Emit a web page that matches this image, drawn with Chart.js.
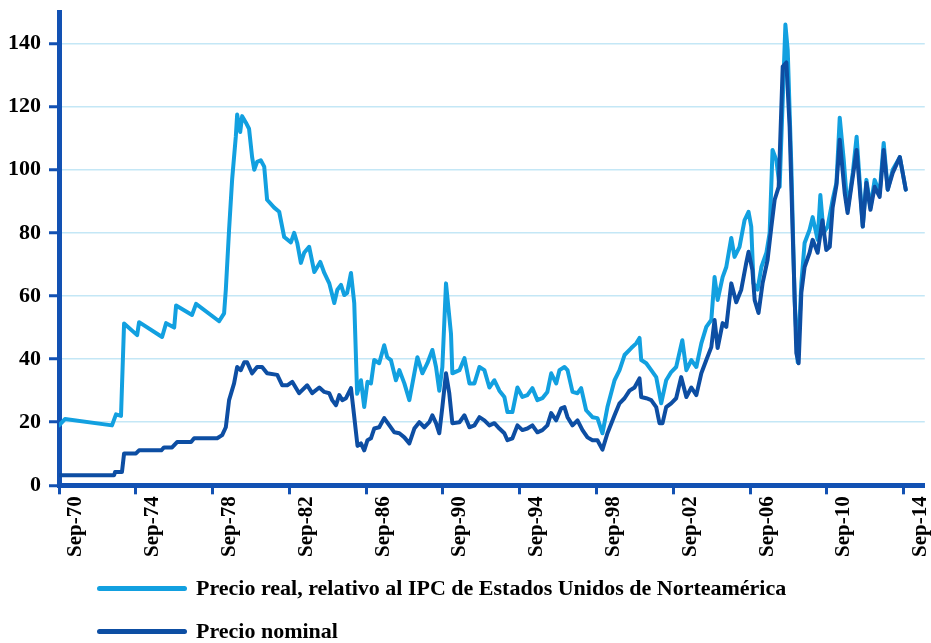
<!DOCTYPE html>
<html>
<head>
<meta charset="utf-8">
<script src="https://cdn.jsdelivr.net/npm/chart.js@4.4.1/dist/chart.umd.min.js"></script>
<style>
  html, body { margin: 0; padding: 0; background: #fff; }
  #wrap { position: relative; width: 931px; height: 643px; }
  #legend { position: absolute; left: 97px; top: 574px; font: bold 22px "Liberation Serif", serif; color: #000; }
  .item { display: flex; align-items: center; height: 28px; margin-bottom: 15px; }
  .swatch { width: 90px; height: 5px; border-radius: 3px; margin-right: 9px; }
</style>
</head>
<body>
<div id="wrap">
  <canvas id="oilChart" width="931" height="643"></canvas>
  <div id="legend"></div>
</div>
<script>
// Data
const realYears = [1970.67, 1970.98, 1973.43, 1973.64, 1973.90, 1974.06, 1974.74, 1974.84, 1976.04, 1976.25,
  1976.67, 1976.77, 1977.60, 1977.81, 1979.01, 1979.27, 1979.36, 1979.53, 1979.69, 1979.88,
  1979.95, 1980.11, 1980.21, 1980.40, 1980.57, 1980.73, 1980.84, 1980.99, 1981.18, 1981.36,
  1981.51, 1981.88, 1982.14, 1982.40, 1982.75, 1982.92, 1983.08, 1983.27, 1983.44, 1983.70,
  1983.97, 1984.28, 1984.49, 1984.75, 1985.01, 1985.17, 1985.36, 1985.53, 1985.68, 1985.88,
  1986.05, 1986.20, 1986.40, 1986.57, 1986.74, 1986.92, 1987.09, 1987.35, 1987.61, 1987.77,
  1987.96, 1988.22, 1988.40, 1988.66, 1988.92, 1989.18, 1989.34, 1989.60, 1989.86, 1990.12,
  1990.31, 1990.48, 1990.64, 1990.83, 1991.09, 1991.16, 1991.53, 1991.79, 1992.05, 1992.31,
  1992.57, 1992.83, 1993.09, 1993.35, 1993.61, 1993.87, 1994.03, 1994.29, 1994.55, 1994.81,
  1995.07, 1995.33, 1995.59, 1995.85, 1996.11, 1996.31, 1996.57, 1996.74, 1997.00, 1997.16,
  1997.42, 1997.68, 1997.87, 1998.13, 1998.46, 1998.72, 1998.98, 1999.24, 1999.61, 1999.87,
  2000.13, 2000.48, 2000.74, 2000.91, 2001.00, 2001.26, 2001.52, 2001.78, 2002.04, 2002.30,
  2002.56, 2002.82, 2003.14, 2003.35, 2003.61, 2003.87, 2004.13, 2004.39, 2004.65, 2004.82,
  2004.98, 2005.24, 2005.43, 2005.69, 2005.86, 2006.12, 2006.38, 2006.59, 2006.73, 2006.85,
  2007.06, 2007.26, 2007.52, 2007.69, 2007.84, 2008.04, 2008.21, 2008.51, 2008.63, 2008.82,
  2008.99, 2009.15, 2009.34, 2009.51, 2009.77, 2009.93, 2010.19, 2010.33, 2010.50, 2010.71,
  2010.97, 2011.17, 2011.34, 2011.55, 2011.75, 2012.02, 2012.22, 2012.54, 2012.73, 2012.94,
  2013.16, 2013.42, 2013.63, 2013.84, 2014.10, 2014.47, 2014.78];
const realValues = [19, 21, 19, 22.5, 22, 51.3, 47.6, 51.7, 47, 51.4,
  50, 57, 54, 57.5, 52, 54.5, 62, 81, 97, 110.5,
  117.5, 112, 117, 115, 113, 104, 100, 102.5, 103, 101,
  90.5, 88, 86.7, 78.7, 77, 80, 76.8, 70.5, 73.7, 75.6,
  67.6, 70.8, 67.3, 64, 57.8, 62, 63.5, 60.3, 61, 67.3,
  57.8, 29, 33.3, 24.8, 32.8, 32.3, 39.7, 38.7, 44.4, 40.6,
  39.7, 33.3, 36.5, 32.3, 27, 35.5, 40.6, 35.5, 38.7, 42.9,
  37.5, 30, 37.5, 64, 48, 35.5, 36.5, 40.3, 32.3, 32.3,
  37.5, 36.5, 31, 33.3, 30, 28, 23.2, 23.2, 31, 28,
  28.6, 30.8, 27, 27.6, 29.6, 35.5, 32.3, 36.5, 37.5, 36.5,
  29.6, 29.2, 30.8, 23.8, 21.6, 21.3, 16.5, 24.8, 33.3, 36.5,
  41.3, 43.5, 45, 46.7, 39.7, 38.7, 36.5, 34.3, 26, 33.3,
  35.9, 37.5, 46, 36.5, 39.7, 37.5, 45, 50.2, 52.4, 66,
  58.7, 66, 69.2, 78.4, 72.4, 75.6, 84, 86.7, 82, 64,
  62, 69.2, 73.7, 80, 106.3, 103, 94.6, 146, 138, 101,
  58.7, 39, 64, 76.8, 81, 85, 77.8, 92, 80, 82,
  90.5, 95.9, 116.5, 103, 87.3, 99, 110.5, 82, 96.8, 88,
  96.8, 92.6, 108.5, 93.7, 100, 104, 93.7];

const nomYears = [1970.67, 1973.54, 1973.59, 1973.95, 1974.06, 1974.68, 1974.84, 1976.00, 1976.14, 1976.56,
  1976.82, 1977.55, 1977.71, 1978.91, 1979.17, 1979.36, 1979.53, 1979.79, 1979.95, 1980.14,
  1980.32, 1980.47, 1980.73, 1980.99, 1981.25, 1981.51, 1982.04, 1982.30, 1982.56, 1982.82,
  1983.18, 1983.60, 1983.86, 1984.23, 1984.49, 1984.75, 1984.90, 1985.10, 1985.27, 1985.43,
  1985.62, 1985.88, 1986.00, 1986.22, 1986.40, 1986.57, 1986.74, 1986.92, 1987.09, 1987.35,
  1987.61, 1987.88, 1988.14, 1988.40, 1988.66, 1988.92, 1989.18, 1989.44, 1989.70, 1989.96,
  1990.12, 1990.31, 1990.48, 1990.64, 1990.83, 1991.00, 1991.16, 1991.53, 1991.79, 1992.05,
  1992.31, 1992.57, 1992.83, 1993.09, 1993.35, 1993.61, 1993.87, 1994.03, 1994.29, 1994.55,
  1994.81, 1995.07, 1995.33, 1995.59, 1995.85, 1996.11, 1996.31, 1996.57, 1996.83, 1997.00,
  1997.16, 1997.42, 1997.68, 1997.94, 1998.20, 1998.46, 1998.72, 1998.98, 1999.24, 1999.61,
  1999.87, 2000.13, 2000.39, 2000.65, 2000.91, 2001.00, 2001.26, 2001.52, 2001.78, 2001.95,
  2002.11, 2002.30, 2002.56, 2002.82, 2003.08, 2003.35, 2003.61, 2003.87, 2004.13, 2004.39,
  2004.65, 2004.82, 2004.98, 2005.24, 2005.43, 2005.69, 2005.95, 2006.21, 2006.47, 2006.59,
  2006.79, 2006.91, 2007.11, 2007.32, 2007.58, 2007.78, 2007.95, 2008.16, 2008.37, 2008.56,
  2008.73, 2008.89, 2009.08, 2009.20, 2009.34, 2009.51, 2009.77, 2009.93, 2010.19, 2010.44,
  2010.64, 2010.82, 2010.97, 2011.17, 2011.34, 2011.60, 2011.75, 2012.02, 2012.22, 2012.54,
  2012.73, 2012.94, 2013.16, 2013.42, 2013.63, 2013.84, 2014.10, 2014.47, 2014.78];
const nomValues = [3.2, 3.2, 4.2, 4.2, 10.1, 10.1, 11.1, 11.1, 12, 12,
  13.7, 13.7, 14.9, 14.9, 15.9, 18.4, 27, 32.3, 37.5, 36.5,
  39, 39, 35.5, 37.5, 37.5, 35.5, 35, 31.7, 31.7, 32.8,
  29.2, 31.7, 29.2, 31, 29.6, 29.2, 27, 25.4, 28.6, 27,
  27.6, 30.8, 24.4, 12.5, 13.3, 11.1, 14.3, 14.9, 18, 18.4,
  21.3, 19, 16.8, 16.5, 15.2, 13.3, 18, 20, 18.4, 20,
  22.2, 19.7, 16.5, 24.8, 35.5, 29.2, 19.7, 20, 22.2, 18.4,
  19, 21.6, 20.6, 19, 19.7, 18, 16.5, 14.3, 14.9, 19,
  17.5, 18, 19, 16.8, 17.5, 19, 22.9, 20.6, 24.4, 24.8,
  21.6, 19, 20.6, 17.5, 15.2, 14.3, 14.3, 11.3, 16.5, 22.2,
  26, 27.6, 30, 31, 33.9, 28, 27.6, 27, 24.8, 19.7,
  19.7, 24.8, 26, 27.6, 34.3, 28, 31, 28.6, 35.5, 39.7,
  43.8, 52.4, 43.5, 51.4, 50.2, 64, 58, 62, 70.5, 74,
  68.3, 58.7, 54.6, 64, 71.4, 82, 90.5, 94.6, 132.7, 134,
  113.7, 80, 41.9, 38.7, 61, 69.2, 73.7, 77.8, 73.7, 84,
  74.6, 75.6, 88, 95.2, 109.5, 92.6, 86.3, 97.8, 106.3, 82,
  95.9, 87.3, 94.6, 91.4, 106.3, 93.7, 99, 104, 93.7];

const xTickYears = [1970.67, 1974.67, 1978.67, 1982.67, 1986.67, 1990.67, 1994.67, 1998.67, 2002.67, 2006.67, 2010.67, 2014.67];
const xTickLabels = ["Sep-70", "Sep-74", "Sep-78", "Sep-82", "Sep-86", "Sep-90", "Sep-94", "Sep-98", "Sep-02", "Sep-06", "Sep-10", "Sep-14"];
const yTicks = [0, 20, 40, 60, 80, 100, 120, 140];

const lightBlue = "#12a0e0";
const darkBlue = "#0d4ea3";
const axisBlue = "#1251b3";
const gridBlue = "#c4e7f6";
const labelFont = { family: "'Liberation Serif', serif", size: 21, weight: "bold" };

const toPoints = (xs, ys) => xs.map((x, i) => ({ x: x, y: ys[i] }));

const chart = new Chart(document.getElementById("oilChart"), {
  type: "line",
  data: {
    datasets: [
      {
        label: "Precio real, relativo al IPC de Estados Unidos de Norteamérica",
        data: toPoints(realYears, realValues),
        borderColor: lightBlue,
        backgroundColor: lightBlue,
        order: 2,
      },
      {
        label: "Precio nominal",
        data: toPoints(nomYears, nomValues),
        borderColor: darkBlue,
        backgroundColor: darkBlue,
        order: 1,
      },
    ],
  },
  options: {
    responsive: false,
    animation: false,
    layout: { padding: { top: 12, right: 6, bottom: 84, left: 0 } },
    elements: {
      point: { radius: 0 },
      line: { borderWidth: 4, tension: 0, borderJoinStyle: "round", borderCapStyle: "round" },
    },
    plugins: { legend: { display: false }, tooltip: { enabled: false } },
    scales: {
      x: {
        type: "linear",
        min: 1970.67,
        max: 2015.77,
        afterBuildTicks: (axis) => {
          axis.ticks = xTickYears.map((v) => ({ value: v }));
        },
        ticks: {
          autoSkip: false,
          minRotation: 90,
          maxRotation: 90,
          labelOffset: 17,
          padding: 2,
          color: "#000",
          font: labelFont,
          callback: (v, i) => xTickLabels[i],
        },
        grid: { drawOnChartArea: false, tickLength: 9, tickColor: axisBlue, tickWidth: 3 },
        border: { color: axisBlue, width: 5 },
      },
      y: {
        min: 0,
        max: 150,
        afterBuildTicks: (axis) => {
          axis.ticks = yTicks.map((v) => ({ value: v }));
        },
        // no label sits at the top (150), so drop the extra top padding
        afterFit: (axis) => {
          axis.paddingTop = 0;
        },
        ticks: { color: "#000", font: { ...labelFont, size: 22 }, padding: 8 },
        grid: { color: gridBlue, lineWidth: 1.5, tickColor: axisBlue, tickLength: 10, tickWidth: 3 },
        border: { color: axisBlue, width: 5 },
      },
    },
  },
});

// Vertical legend under the chart, as in the reference
const legendBox = document.getElementById("legend");
chart.data.datasets.forEach((ds) => {
  const item = document.createElement("div");
  item.className = "item";
  const swatch = document.createElement("span");
  swatch.className = "swatch";
  swatch.style.background = ds.borderColor;
  item.appendChild(swatch);
  item.appendChild(document.createTextNode(ds.label));
  legendBox.appendChild(item);
});
</script>
</body>
</html>
